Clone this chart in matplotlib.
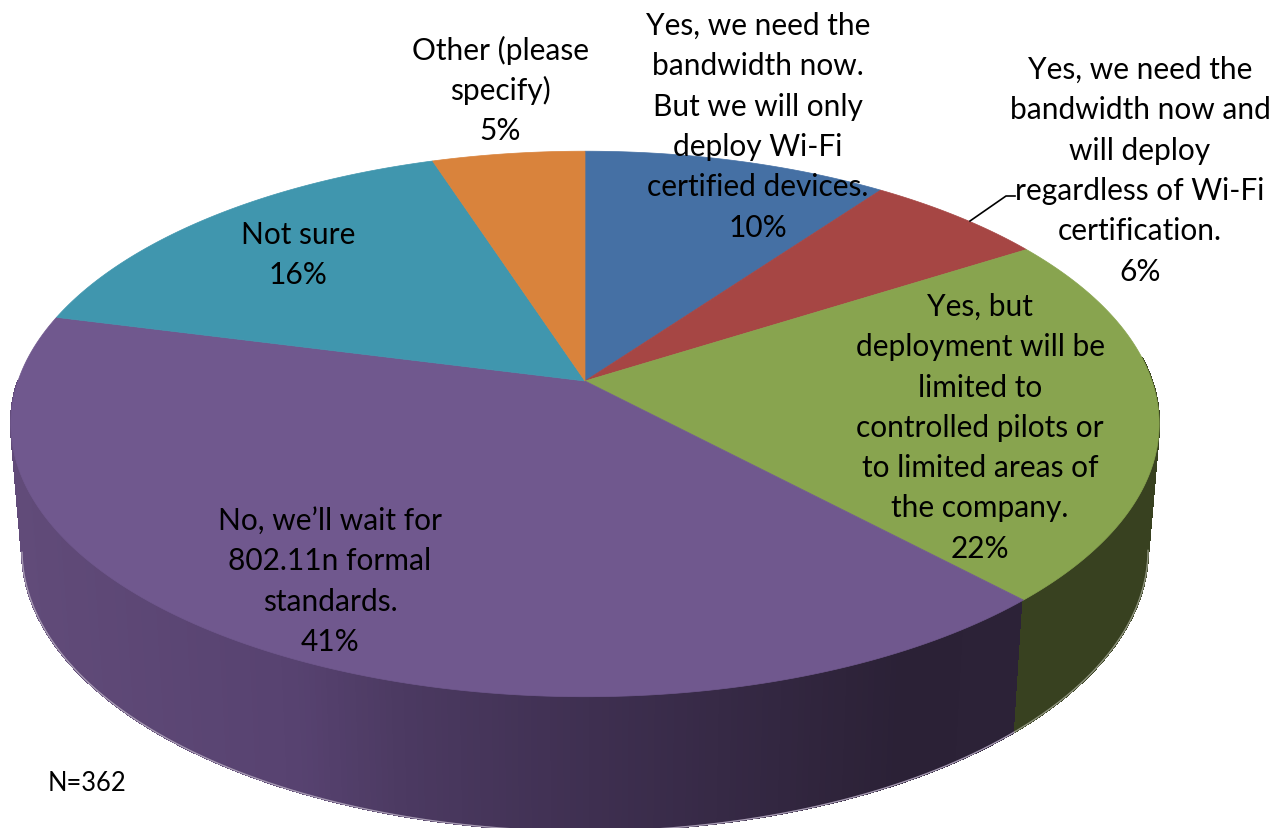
#!/usr/bin/env python3
"""
Survey pie: plans for deploying pre-standard 802.11n, drawn as a tilted 3D disc.
"""

import numpy as np
import matplotlib

matplotlib.use('Agg')
import matplotlib.pyplot as plt
from matplotlib.collections import PolyCollection
from matplotlib.colors import to_rgb

# Slices, clockwise from 12 o'clock
categories = [
    "Yes, we need the\nbandwidth now.\nBut we will only\ndeploy Wi-Fi\ncertified devices.",
    "Yes, we need the\nbandwidth now and\nwill deploy\nregardless of Wi-Fi\ncertification.",
    "Yes, but\ndeployment will be\nlimited to\ncontrolled pilots or\nto limited areas of\nthe company.",
    "No, we\u2019ll wait for\n802.11n formal\nstandards.",
    "Not sure",
    "Other (please\nspecify)",
]
values = [10, 6, 22, 41, 16, 5]
colors = ["#4570a4", "#a64644", "#88a44f", "#70588e", "#4096ae", "#d9833c"]

# Label anchors: centre x and y of the first line, in pixels
label_x = [758, 1140, 980, 330, 298, 500]
label_y = [26, 70, 307, 521, 235, 50]
sample_note = "N=362"

# Rim shading
side_x = [20, 300, 400, 600, 900, 1020]
side_colors = ["#614b79", "#574270", "#4c3a62", "#3e2f50", "#2b2136", "#2c2237"]
green_side = "#384120"
green_rim = "#8f947f"
purple_rim = "#a79bb3"

# Perspective of the disc
CX = 585
TILT = 0.1575
TOP = (567, 382, 266)      # half width, apex y, half height of the upper face
BOTTOM = (556, 507, 274)   # same for the lower rim
LINE_H = 40.3
RIM_LEFT = np.radians(261)   # lower rim turns out of sight past these angles
RIM_RIGHT = np.radians(99)


def project(theta, plane):
    """Unit circle angle (clockwise from top, radians) to pixel coordinates."""
    a, y0, b = plane
    u, v = np.sin(theta), np.cos(theta)
    w = 1 + TILT * v
    return CX + a * u / w, y0 - b * v / w


def side_color(x):
    stops = np.array([to_rgb(c) for c in side_colors])
    return [np.interp(x, side_x, stops[:, i]) for i in range(3)]


def draw_side(ax, t1, t2, green):
    # thin vertical strips between the upper and lower rim
    th = np.linspace(t1, t2, 240)
    xt, yt = project(th, TOP)
    xb, yb = project(th, BOTTOM)
    polys, cols = [], []
    for i in range(len(th) - 1):
        polys.append([(xt[i], yt[i]), (xt[i + 1], yt[i + 1]), (xb[i + 1], yb[i + 1]), (xb[i], yb[i])])
        cols.append(green_side if green else side_color((xt[i] + xb[i]) / 2))
    # no antialiasing here, otherwise the strip seams show up as streaks
    ax.add_collection(PolyCollection(polys, facecolors=cols, edgecolors=cols, linewidths=0.8,
                                     antialiaseds=False, zorder=1))
    # pale fringe along the visible part of the lower rim
    keep = (th >= RIM_RIGHT) & (th <= RIM_LEFT)
    ax.plot(xb[keep], yb[keep], color=green_rim if green else purple_rim, lw=1.0, zorder=1.1)


def main():
    plt.rcParams['font.family'] = ['Lato', 'DejaVu Sans']
    fig = plt.figure(figsize=(12.83, 8.29), dpi=100)
    ax = fig.add_axes([0, 0, 1, 1])
    ax.set_xlim(0, 1283)
    ax.set_ylim(829, 0)
    ax.axis('off')

    edges = np.cumsum([0] + values) / sum(values) * 2 * np.pi

    # Only the green and purple slices show their rim
    draw_side(ax, edges[3], np.radians(270), False)
    draw_side(ax, np.radians(85), edges[3], True)

    for i, color in enumerate(colors):
        th = np.linspace(edges[i], edges[i + 1], 150)
        x, y = project(th, TOP)
        ax.fill(np.r_[CX, x], np.r_[TOP[1], y], facecolor=color, edgecolor=color, lw=0.5, zorder=2)

    for name, val, x, y in zip(categories, values, label_x, label_y):
        lines = name.split("\n") + [f"{val}%"]
        for j, line in enumerate(lines):
            ax.text(x, y + j * LINE_H, line, ha='center', va='center', fontsize=21.5, color='black', zorder=3)

    # leader for the narrow red slice
    ax.plot([970, 1006, 1015], [222, 197, 197], color='black', lw=1.2, zorder=3)

    ax.text(48, 784, sample_note, ha='left', va='center', fontsize=18.4, color='black', zorder=3)

    fig.savefig("out.png", dpi=100)


if __name__ == "__main__":
    main()
